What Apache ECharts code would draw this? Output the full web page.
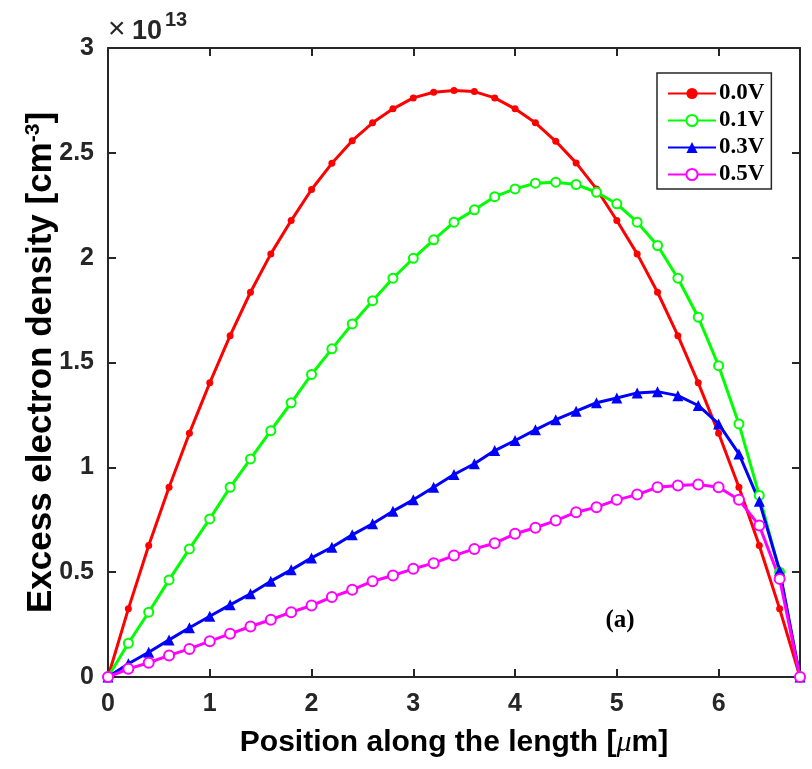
<!DOCTYPE html>
<html>
<head>
<meta charset="utf-8">
<script src="https://cdn.jsdelivr.net/npm/echarts@6/dist/echarts.min.js"></script>
<style>html,body{margin:0;padding:0;background:#fff;}#c{width:812px;height:769px;}</style>
</head>
<body>
<div id="c"></div>
<script>
const positions = [0,0.2,0.4,0.6,0.8,1.0,1.2,1.4,1.6,1.8,2.0,2.2,2.4,2.6,2.8,3.0,3.2,3.4,3.6,3.8,4.0,4.2,4.4,4.6,4.8,5.0,5.2,5.4,5.6,5.8,6.0,6.2,6.4,6.6,6.8];
const v00 = [0,0.325,0.627,0.905,1.163,1.403,1.628,1.835,2.018,2.177,2.325,2.450,2.558,2.643,2.710,2.762,2.789,2.797,2.792,2.762,2.710,2.643,2.555,2.452,2.328,2.177,2.018,1.835,1.628,1.403,1.163,0.905,0.627,0.325,0];
const v01 = [0,0.161,0.309,0.463,0.611,0.754,0.905,1.040,1.175,1.308,1.443,1.565,1.684,1.795,1.902,1.997,2.085,2.169,2.228,2.291,2.328,2.355,2.360,2.349,2.312,2.257,2.169,2.058,1.902,1.716,1.485,1.207,0.866,0.50,0];
const v03 = [0,0.063,0.118,0.177,0.235,0.290,0.344,0.397,0.457,0.511,0.568,0.619,0.678,0.731,0.791,0.845,0.905,0.966,1.017,1.080,1.128,1.179,1.227,1.268,1.308,1.331,1.355,1.361,1.342,1.295,1.207,1.064,0.838,0.508,0];
const v05 = [0,0.039,0.068,0.103,0.134,0.171,0.206,0.241,0.273,0.309,0.341,0.381,0.416,0.457,0.484,0.516,0.543,0.579,0.611,0.638,0.683,0.712,0.746,0.786,0.810,0.845,0.870,0.905,0.913,0.918,0.905,0.845,0.722,0.468,0];
const seriesNames = ['0.0V','0.1V','0.3V','0.5V'];
const xTicks = ['0','1','2','3','4','5','6'];
const yTicks = ['0','0.5','1','1.5','2','2.5','3'];

function pairs(vals){ return positions.map((x,i)=>[x, vals[i]]); }

const axisColor = '#262626';
const labelFont = {fontFamily:'Liberation Sans, Arial, sans-serif', fontWeight:'bold', fontSize:25, color:axisColor};

const chart = echarts.init(document.getElementById('c'), null, {renderer:'canvas'});
const mk = (name, vals, color, symbol, size, empty) => ({
  name, type:'line', data:pairs(vals), symbol, symbolSize:size, showSymbol:true,
  lineStyle:{color, width:3}, itemStyle:{color: color, borderColor: color, borderWidth: empty?2:0},
  animation:false, z: 2
});
chart.setOption({
  animation:false,
  grid:{left:108, right:12, top:48, bottom:92, containLabel:false},
  legend:{
    orient:'vertical', left:657, top:73,
    data: seriesNames,
    itemWidth:48, itemHeight:14, itemGap:4,
    padding:[9,7,3,10],
    borderColor:'#262626', borderWidth:1.5, backgroundColor:'#fff',
    textStyle:{fontFamily:'Liberation Serif, Times New Roman, serif', fontWeight:'bold', fontSize:23, color:'#000', lineHeight:20, padding:[0,0,0,-2]}
  },
  xAxis:[{
    type:'value', min:0, max:6.8, interval:1, position:'bottom',
    name:'Position along the length [{mu|μ}m]',
    nameLocation:'middle', nameGap:51, nameMoveOverlap:false,
    nameTextStyle:{fontFamily:'Liberation Sans, Arial, sans-serif', fontWeight:'bold', fontSize:30, color:'#000',
      rich:{mu:{fontFamily:'Liberation Serif, serif', fontStyle:'italic', fontWeight:'normal', fontSize:30, color:'#000'}}},
    axisLine:{show:true, onZero:false, lineStyle:{color:axisColor, width:2}},
    axisTick:{show:true, inside:true, length:8, lineStyle:{color:axisColor, width:2}},
    axisLabel:{...labelFont, margin:15, showMaxLabel:false, formatter:(v)=>{const i=Math.round(v); return Math.abs(v-i)<1e-6 ? xTicks[i] : '';}},
    splitLine:{show:false}
  },{
    type:'value', min:0, max:6.8, interval:1, position:'top',
    axisLine:{show:true, onZero:false, lineStyle:{color:axisColor, width:2}},
    axisTick:{show:true, inside:true, length:8, lineStyle:{color:axisColor, width:2}},
    axisLabel:{show:false}, splitLine:{show:false}
  }],
  yAxis:[{
    type:'value', min:0, max:3, interval:0.5, position:'left',
    name:'Excess electron density [cm{sup|-3}]',
    nameLocation:'middle', nameGap:48, nameRotate:90, nameMoveOverlap:false,
    nameTextStyle:{fontFamily:'Liberation Sans, Arial, sans-serif', fontWeight:'bold', fontSize:35, color:'#000',
      rich:{sup:{fontFamily:'Liberation Sans, Arial, sans-serif', fontWeight:'bold', fontSize:21, color:'#000', verticalAlign:'top', padding:[0,0,16,0]}}},
    axisLine:{show:true, onZero:false, lineStyle:{color:axisColor, width:2}},
    axisTick:{show:true, inside:true, length:8, lineStyle:{color:axisColor, width:2}},
    axisLabel:{...labelFont, margin:14, formatter:(v)=>{const i=Math.round(v*2); return yTicks[i];}},
    splitLine:{show:false}
  },{
    type:'value', min:0, max:3, interval:0.5, position:'right',
    axisLine:{show:true, onZero:false, lineStyle:{color:axisColor, width:2}},
    axisTick:{show:true, inside:true, length:8, lineStyle:{color:axisColor, width:2}},
    axisLabel:{show:false}, splitLine:{show:false}
  }],
  series:[
    mk(seriesNames[0], v00, '#ff0000', 'circle', 7, false),
    mk(seriesNames[1], v01, '#00ff00', 'emptyCircle', 9, true),
    mk(seriesNames[2], v03, '#0000ff', 'triangle', 11, false),
    mk(seriesNames[3], v05, '#ff00ff', 'emptyCircle', 10, true)
  ],
  graphic:[
    {type:'text', x:108, y:30, style:{text:'×', font:'normal 30px "Liberation Sans", Arial, sans-serif', fill:'#262626', textVerticalAlign:'middle'}},
    {type:'text', x:132, y:32, style:{text:'10', font:'bold 27px "Liberation Sans", Arial, sans-serif', fill:'#262626', textVerticalAlign:'middle'}},
    {type:'text', x:165, y:20, style:{text:'13', font:'bold 20px "Liberation Sans", Arial, sans-serif', fill:'#262626', textVerticalAlign:'middle'}},
    {type:'text', x:620, y:621, style:{text:'(a)', font:'bold 25px "Liberation Serif", "Times New Roman", serif', fill:'#000', textAlign:'center', textVerticalAlign:'middle'}}
  ]
});
</script>
</body>
</html>
